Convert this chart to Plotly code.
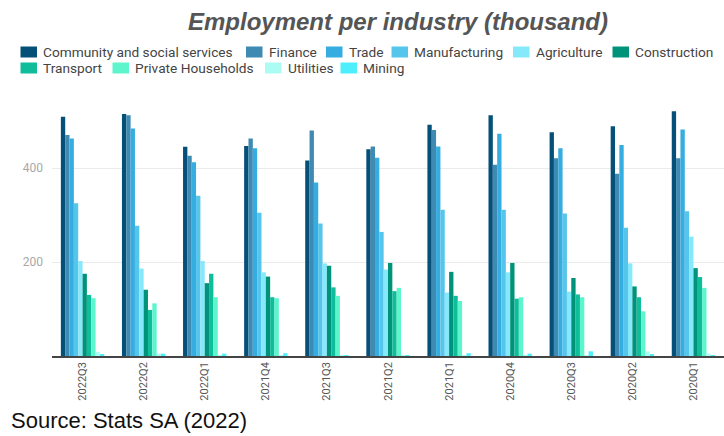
import plotly.graph_objects as go

# Quarters shown left to right
quarters = ["2022Q3", "2022Q2", "2022Q1", "2021Q4", "2021Q3", "2021Q2",
            "2021Q1", "2020Q4", "2020Q3", "2020Q2", "2020Q1"]

# Employment per industry, thousands
community = [509, 515, 445, 447, 416, 440, 492, 512, 476, 489, 521]
finance = [470, 512, 426, 463, 480, 446, 481, 407, 421, 388, 421]
trade = [463, 484, 412, 442, 369, 422, 446, 473, 442, 449, 482]
manufacturing = [325, 277, 341, 305, 282, 264, 311, 311, 303, 273, 308]
agriculture = [202, 186, 202, 178, 197, 184, 135, 178, 137, 197, 254]
construction = [175, 141, 155, 169, 192, 198, 179, 198, 166, 148, 187]
transport = [130, 98, 175, 125, 146, 138, 128, 122, 131, 125, 168]
households = [123, 112, 125, 123, 128, 145, 117, 125, 125, 95, 145]
utilities = [9, 5, 2, 1, 2, 2, 1, 1, 1, 10, 5]
mining = [4, 5, 5, 6, 2, 2, 6, 5, 10, 4, 1]

industries = ["Community and social services", "Finance", "Trade", "Manufacturing",
              "Agriculture", "Construction", "Transport", "Private Households",
              "Utilities", "Mining"]
values = [community, finance, trade, manufacturing, agriculture, construction,
          transport, households, utilities, mining]
colors = ["#055078", "#3f8ab2", "#36ade0", "#56c5ec", "#85e8fb",
          "#01937a", "#0fbd9b", "#5cf5cc", "#adfcf4", "#4eeffc"]

W, H = 724, 436
ML, MR, MT, MB = 52, 0, 100, 80
PW, PH = W - ML - MR, H - MT - MB


def px_x(px):
    return (px - ML) / PW


def px_y(py):
    return (H - MB - py) / PH


fig = go.Figure()
for name, vals, col in zip(industries, values, colors):
    fig.add_trace(go.Bar(x=quarters, y=vals, name=name, marker_color=col,
                         marker_line_width=0, showlegend=False))

# Legend drawn as swatches + labels, two rows
legend_pos = [(20.5, 52), (246, 52), (326, 52), (391.5, 52), (513, 52), (612.5, 52),
              (20.5, 68), (112.5, 68), (265, 68), (340.5, 68)]
shapes = []
annotations = []
for (lx, ly), name, col in zip(legend_pos, industries, colors):
    shapes.append(dict(type="rect", xref="paper", yref="paper",
                       x0=px_x(lx), x1=px_x(lx + 16.5),
                       y0=px_y(ly + 5.5), y1=px_y(ly - 5.5),
                       fillcolor=col, line=dict(width=0)))
    annotations.append(dict(text=name, xref="paper", yref="paper",
                            x=px_x(lx + 20.5), y=px_y(ly), xanchor="left", yanchor="middle",
                            showarrow=False,
                            font=dict(family="Roboto", size=13.7, color="#444444")))

annotations.append(dict(text="Source: Stats SA (2022)", xref="paper", yref="paper",
                        x=px_x(9), y=px_y(420), xanchor="left", yanchor="middle",
                        showarrow=False,
                        font=dict(family="Liberation Sans, Arial", size=22, color="#111111")))

fig.update_layout(
    width=W, height=H,
    margin=dict(l=ML, r=MR, t=MT, b=MB),
    paper_bgcolor="white", plot_bgcolor="white",
    barmode="group", bargap=0.29, bargroupgap=0,
    title=dict(text="Employment per industry (thousand)",
               x=398 / W, xanchor="center", y=1 - 22 / H, yanchor="middle",
               font=dict(family="Liberation Sans, Arial", size=24, color="#555555",
                         weight="bold", style="italic")),
    shapes=shapes,
    annotations=annotations,
    xaxis=dict(showline=True, linecolor="#444444", linewidth=1.5,
               tickangle=-90, ticks="", automargin=False,
               tickfont=dict(family="Roboto", size=11, color="#555555"),
               ticklabelstandoff=0),
    yaxis=dict(range=[0, PH / 0.47], tickvals=[200, 400], showgrid=True,
               gridcolor="#ebebeb", gridwidth=1, zeroline=False, showline=False,
               ticks="", automargin=False, ticklabelstandoff=8,
               tickfont=dict(family="Roboto", size=12, color="#a8a8a8")),
)

fig.write_html("out.html")
